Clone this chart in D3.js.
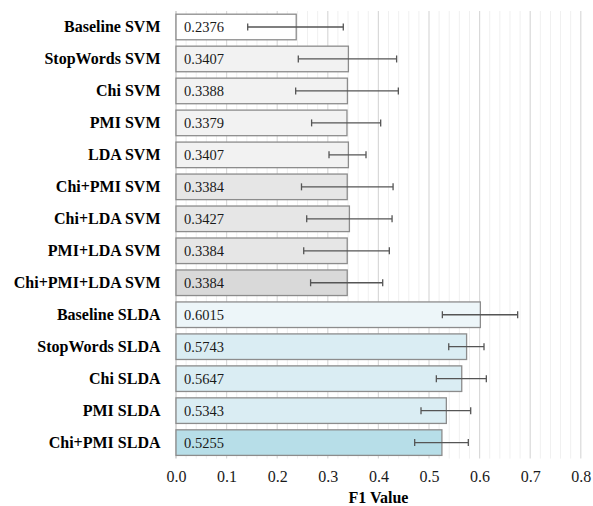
<!DOCTYPE html>
<html>
<head>
<meta charset="utf-8">
<script src="https://cdn.jsdelivr.net/npm/d3@7"></script>
</head>
<body style="margin:0;background:#fff">
<svg id="f1plot" width="593" height="506" style="display:block"></svg>
<script>
const categories = ["Baseline SVM","StopWords SVM","Chi SVM","PMI SVM","LDA SVM","Chi+PMI SVM","Chi+LDA SVM","PMI+LDA SVM","Chi+PMI+LDA SVM","Baseline SLDA","StopWords SLDA","Chi SLDA","PMI SLDA","Chi+PMI SLDA"];
const values = [0.2376,0.3407,0.3388,0.3379,0.3407,0.3384,0.3427,0.3384,0.3384,0.6015,0.5743,0.5647,0.5343,0.5255];
const errLow = [0.1417,0.2417,0.2365,0.2680,0.3024,0.2480,0.2583,0.2524,0.2660,0.5264,0.5390,0.5145,0.4842,0.4717];
const errHigh = [0.3306,0.4360,0.4394,0.4045,0.3755,0.4290,0.4270,0.4216,0.4085,0.6752,0.6087,0.6133,0.5824,0.5777];
const fills = ["#ffffff","#f2f2f2","#f2f2f2","#f2f2f2","#f2f2f2","#e6e6e6","#e6e6e6","#e6e6e6","#d9d9d9","#edf6f9","#daedf3","#daedf3","#daedf3","#b7dee8"];
const xTicks = [0,0.1,0.2,0.3,0.4,0.5,0.6,0.7,0.8];
const axisTitle = "F1 Value";

const svg = d3.select("#f1plot");
const x = d3.scaleLinear().domain([0,0.8]).range([176,580.8]);
const y = d3.scaleBand().domain(categories).range([11,458.6]).paddingInner(0.2).paddingOuter(0.1);

function serif(sel, size, bold) {
  sel.each(function() {
    this.style.setProperty("font-family", '"Liberation Serif", serif');
    this.style.setProperty("font-size", size + "px");
    this.style.setProperty("font-weight", bold ? "bold" : "normal");
  });
  return sel;
}

// minor gridlines
const minor = d3.range(0,0.8001,0.02).filter(v => Math.abs(v*10 - Math.round(v*10)) > 1e-6);
svg.append("g").selectAll("line").data(minor).join("line")
  .attr("x1", d => x(d)).attr("x2", d => x(d))
  .attr("y1", 11).attr("y2", 458.6)
  .attr("stroke", "#f0f0f0").attr("stroke-width", 1);
// major gridlines
svg.append("g").selectAll("line").data(xTicks).join("line")
  .attr("x1", d => x(d)).attr("x2", d => x(d))
  .attr("y1", 11).attr("y2", 458.6)
  .attr("stroke", d => d === 0 ? "#bfbfbf" : "#d9d9d9").attr("stroke-width", 1.2);

// bars
const rows = categories.map((c,i) => ({c, v: values[i], lo: errLow[i], hi: errHigh[i], f: fills[i]}));
svg.append("g").selectAll("rect").data(rows).join("rect")
  .attr("x", x(0)).attr("y", d => y(d.c))
  .attr("width", d => x(d.v) - x(0)).attr("height", y.bandwidth())
  .attr("fill", d => d.f).attr("stroke", "#8c8c8c").attr("stroke-width", 1.3);

// value labels
serif(svg.append("g").selectAll("text").data(rows).join("text")
  .attr("x", 184).attr("y", d => y(d.c) + y.bandwidth()/2 + 5.2)
  .attr("fill", "#1a1a1a")
  .text(d => d.v.toFixed(4)), 14.5, false);

// error bars
const eb = svg.append("g").attr("stroke", "#555555").attr("stroke-width", 1.3);
rows.forEach(d => {
  const cy = y(d.c) + y.bandwidth()/2;
  eb.append("line").attr("x1", x(d.lo)).attr("x2", x(d.hi)).attr("y1", cy).attr("y2", cy);
  eb.append("line").attr("x1", x(d.lo)).attr("x2", x(d.lo)).attr("y1", cy-3.5).attr("y2", cy+3.5);
  eb.append("line").attr("x1", x(d.hi)).attr("x2", x(d.hi)).attr("y1", cy-3.5).attr("y2", cy+3.5);
});

// category labels
serif(svg.append("g").selectAll("text").data(categories).join("text")
  .attr("x", 160.5).attr("y", d => y(d) + y.bandwidth()/2 + 5.5)
  .attr("text-anchor", "end").attr("fill", "#000")
  .text(d => d), 16, true);

// x axis labels
const xAxis = d3.axisBottom(x).tickValues(xTicks).tickFormat(d3.format(".1f")).tickSize(0).tickPadding(0);
const ax = svg.append("g").attr("transform", "translate(0,470)").call(xAxis);
ax.attr("font-family", null).attr("font-size", null);
ax.select(".domain").remove();
serif(ax.selectAll("text").attr("fill", "#1a1a1a").attr("dy", "0.78em"), 16, false);

serif(svg.append("text")
  .attr("x", (x(0)+x(0.8))/2).attr("y", 503)
  .attr("text-anchor", "middle").attr("fill", "#000")
  .text(axisTitle), 16, true);
</script>
</body>
</html>
